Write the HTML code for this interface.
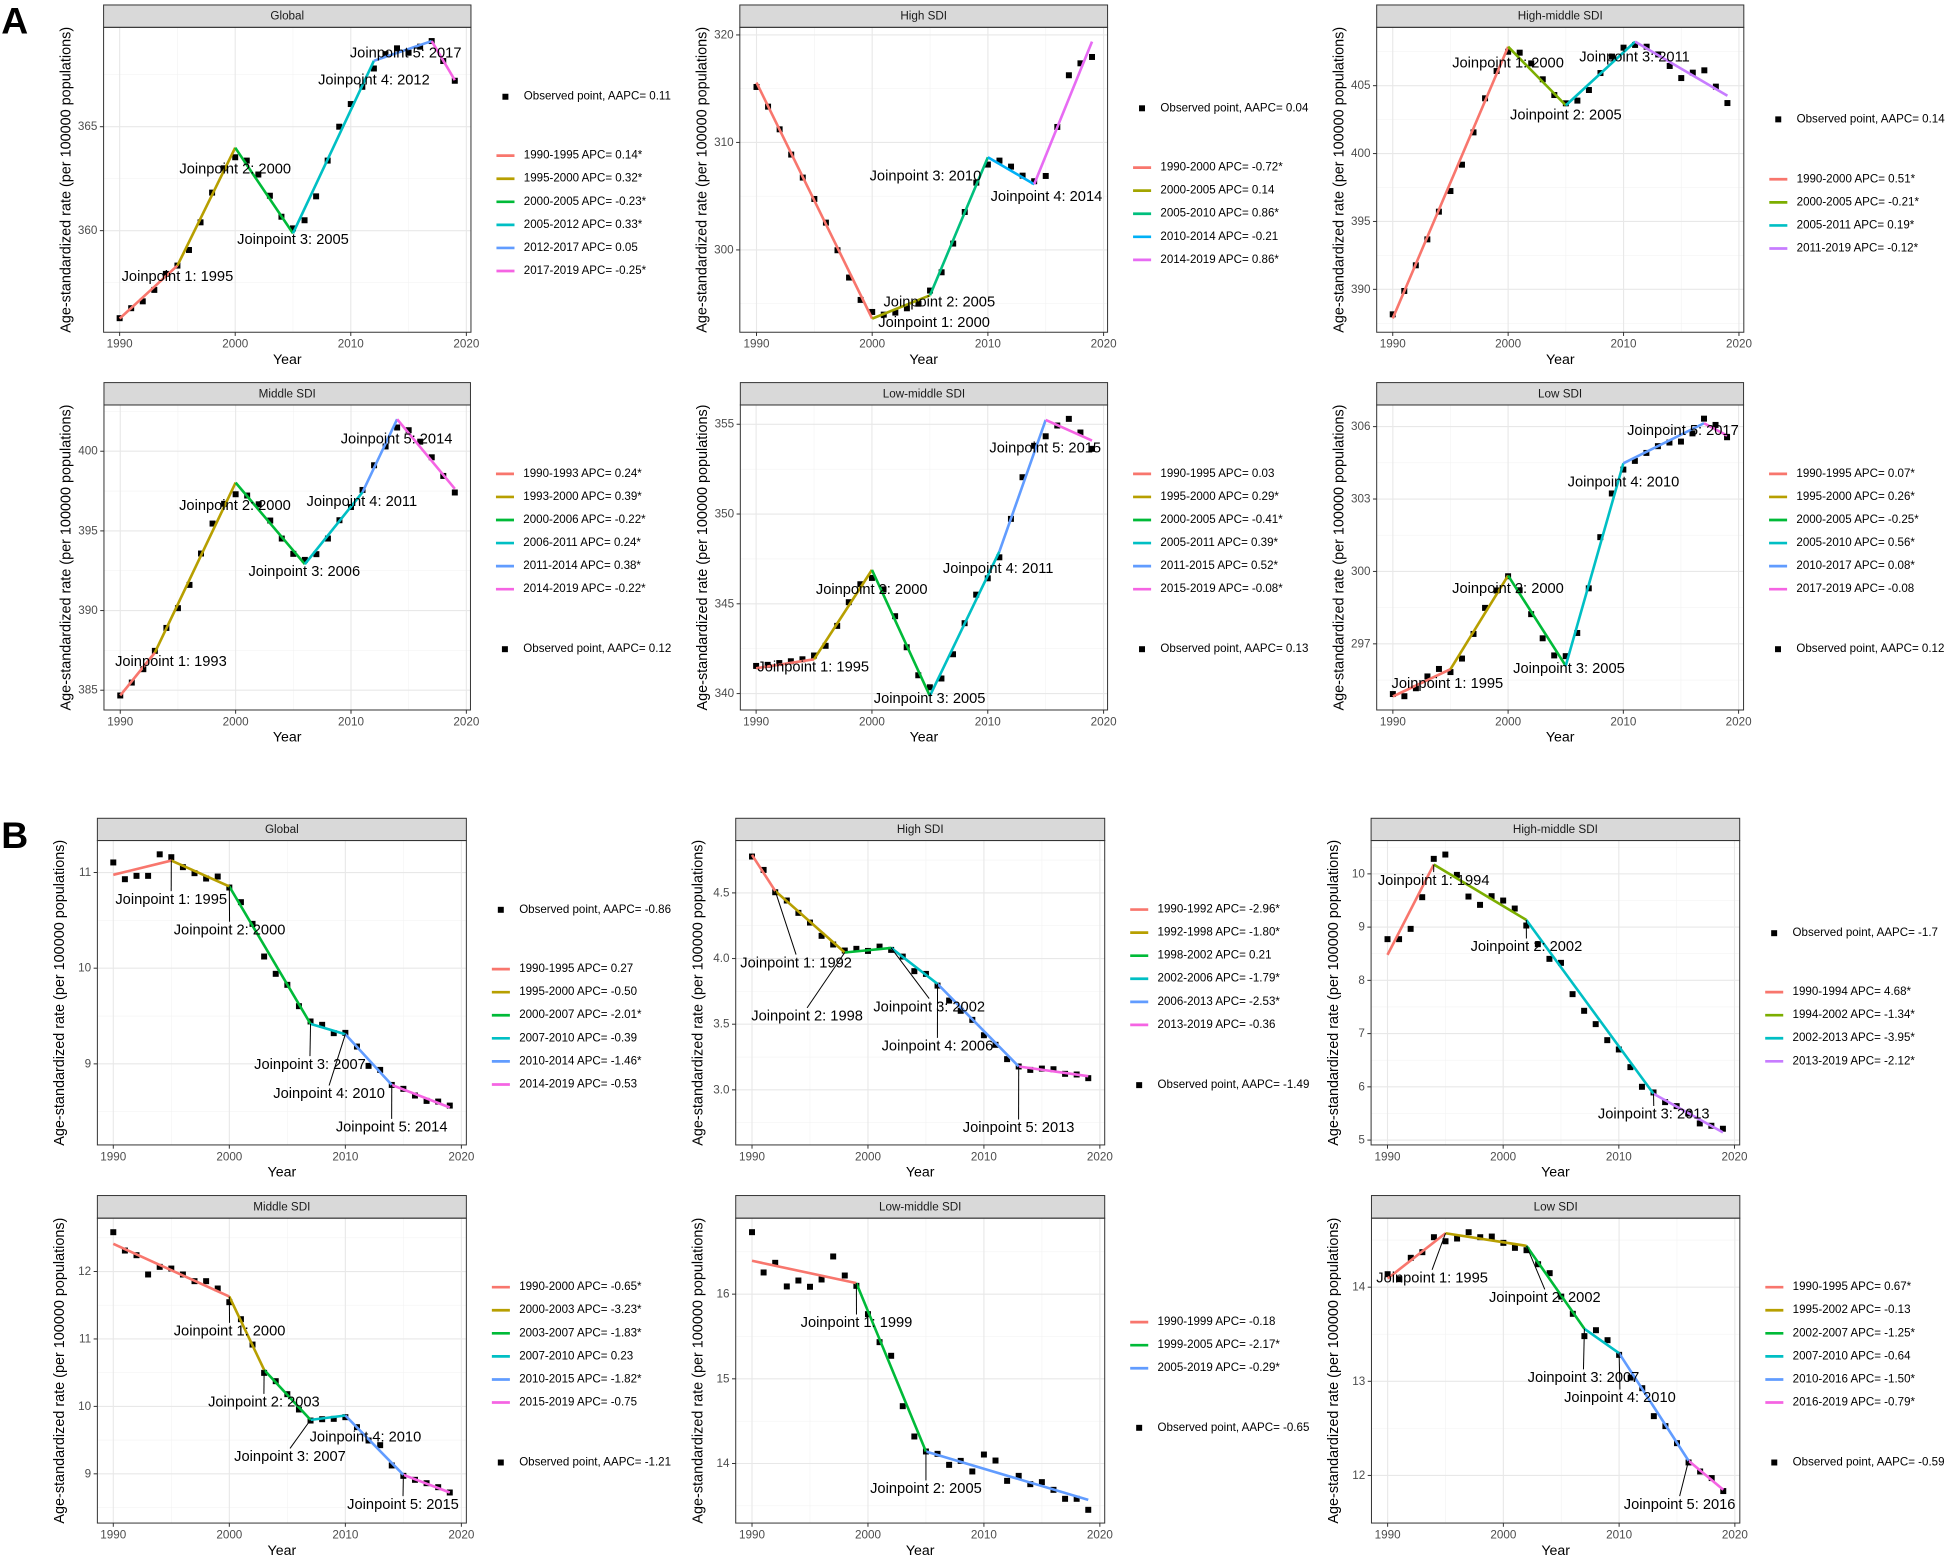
<!DOCTYPE html>
<html><head><meta charset="utf-8"><title>Joinpoint regression panels</title>
<style>html,body{margin:0;padding:0;background:#fff}svg{display:block}text{font-family:"Liberation Sans",Arial,sans-serif}</style>
</head><body>
<svg id="fig" xmlns="http://www.w3.org/2000/svg" width="1950" height="1558" viewBox="0 0 1568 1253" preserveAspectRatio="none">
<rect x="0" y="0" width="1568" height="1253" fill="#fff"/>
<text x="1" y="27" font-size="30" font-weight="bold" fill="#000">A</text>
<text x="1" y="682" font-size="30" font-weight="bold" fill="#000">B</text>
</svg>
<script>
const YEARS=[1990,1991,1992,1993,1994,1995,1996,1997,1998,1999,2000,2001,2002,2003,2004,2005,2006,2007,2008,2009,2010,2011,2012,2013,2014,2015,2016,2017,2018,2019];

// ---- A: Global ----
const aGlobalObs=[355.79,356.27,356.6,357.15,357.92,358.32,359.07,360.4,361.83,363.0,363.53,363.37,362.7,361.68,360.67,360.11,360.5,361.65,363.37,365.0,366.09,366.92,367.8,368.49,368.77,368.56,368.85,369.12,368.16,367.21];
const aGlobalJpYears=[1990,1995,2000,2005,2012,2017,2019];
const aGlobalJpFit=[355.77,358.32,363.99,359.87,368.17,369.12,367.24];
const aGlobalSeg=['1990-1995 APC= 0.14*','1995-2000 APC= 0.32*','2000-2005 APC= -0.23*','2005-2012 APC= 0.33*','2012-2017 APC= 0.05','2017-2019 APC= -0.25*'];
const aGlobalTicks=[360,365];
const aGlobalLabX=[1995.0,2000.0,2005.0,2012.0,2014.75];
const aGlobalLabY=[357.76,362.95,359.55,367.21,368.53];

// ---- A: High SDI ----
const aHighObs=[315.16,313.33,311.22,308.87,306.73,304.74,302.54,299.97,297.43,295.35,294.23,293.98,294.17,294.57,295.0,296.22,297.92,300.59,303.53,306.26,307.94,308.31,307.75,306.91,306.39,306.88,311.44,316.25,317.36,317.95];
const aHighJpYears=[1990,2000,2005,2010,2014,2019];
const aHighJpFit=[315.57,293.61,295.78,308.62,306.11,319.38];
const aHighSeg=['1990-2000 APC= -0.72*','2000-2005 APC= 0.14','2005-2010 APC= 0.86*','2010-2014 APC= -0.21','2014-2019 APC= 0.86*'];
const aHighTicks=[300,310,320];
const aHighLabX=[2005.35,2005.8,2004.6,2015.06];
const aHighLabY=[293.18,295.1,306.82,304.9];

// ---- A: High-middle SDI ----
const aHmObs=[388.16,389.88,391.77,393.68,395.72,397.24,399.18,401.56,404.07,406.08,407.5,407.43,406.64,405.47,404.31,403.7,403.9,404.68,405.93,407.14,407.8,408.0,407.87,407.3,406.45,405.56,405.96,406.13,404.93,403.72];
const aHmJpYears=[1990,2000,2005,2011,2019];
const aHmJpFit=[387.86,407.87,403.55,408.24,404.26];
const aHmSeg=['1990-2000 APC= 0.51*','2000-2005 APC= -0.21*','2005-2011 APC= 0.19*','2011-2019 APC= -0.12*'];
const aHmTicks=[390,395,400,405];
const aHmLabX=[1999.99,2005.0,2010.95];
const aHmLabY=[406.64,402.79,407.09];

// ---- A: Middle SDI ----
const aMidObs=[384.67,385.48,386.32,387.47,388.91,390.15,391.61,393.58,395.46,396.7,397.3,397.22,396.67,395.65,394.52,393.56,393.18,393.54,394.52,395.67,396.5,397.57,399.12,400.3,401.49,401.32,400.6,399.62,398.45,397.41];
const aMidJpYears=[1990,1993,2000,2006,2011,2014,2019];
const aMidJpFit=[384.67,387.36,398.03,392.91,397.43,402.01,397.64];
const aMidSeg=['1990-1993 APC= 0.24*','1993-2000 APC= 0.39*','2000-2006 APC= -0.22*','2006-2011 APC= 0.24*','2011-2014 APC= 0.38*','2014-2019 APC= -0.22*'];
const aMidTicks=[385,390,395,400];
const aMidLabX=[1994.39,1999.94,2005.95,2010.94,2013.95];
const aMidLabY=[386.76,396.57,392.43,396.8,400.75];

// ---- A: Low-middle SDI ----
const aLmObs=[341.54,341.6,341.7,341.8,341.91,342.12,342.66,343.77,345.09,346.09,346.44,345.8,344.31,342.58,341.02,340.35,340.84,342.19,343.92,345.51,346.42,347.59,349.73,352.05,353.8,354.33,354.93,355.3,354.54,353.63];
const aLmJpYears=[1990,1995,2000,2005,2011,2015,2019];
const aLmJpFit=[341.41,341.91,346.89,339.87,347.91,355.24,354.09];
const aLmSeg=['1990-1995 APC= 0.03','1995-2000 APC= 0.29*','2000-2005 APC= -0.41*','2005-2011 APC= 0.39*','2011-2015 APC= 0.52*','2015-2019 APC= -0.08*'];
const aLmTicks=[340,345,350,355];
const aLmLabX=[1994.93,1999.98,2004.98,2010.9,2014.96];
const aLmLabY=[341.45,345.77,339.69,346.93,353.64];

// ---- A: Low SDI ----
const aLowObs=[294.92,294.83,295.16,295.65,295.96,295.83,296.39,297.41,298.49,299.21,299.8,299.22,298.23,297.23,296.52,296.49,297.45,299.3,301.42,303.23,304.22,304.58,304.91,305.19,305.34,305.38,305.72,306.33,306.07,305.56];
const aLowJpYears=[1990,1995,2000,2005,2010,2017,2019];
const aLowJpFit=[294.82,295.95,299.83,296.09,304.48,306.14,305.63];
const aLowSeg=['1990-1995 APC= 0.07*','1995-2000 APC= 0.26*','2000-2005 APC= -0.25*','2005-2010 APC= 0.56*','2010-2017 APC= 0.08*','2017-2019 APC= -0.08'];
const aLowTicks=[297,300,303,306];
const aLowLabX=[1994.73,1999.99,2005.28,2010.01,2015.17];
const aLowLabY=[295.33,299.28,295.96,303.69,305.81];

// ---- B: Global ----
const bGlobalObs=[11.105,10.93,10.965,10.965,11.19,11.16,11.056,10.993,10.937,10.958,10.843,10.69,10.463,10.122,9.941,9.826,9.603,9.443,9.408,9.321,9.324,9.181,8.979,8.937,8.78,8.739,8.669,8.613,8.606,8.564];
const bGlobalJpYears=[1990,1995,2000,2007,2010,2014,2019];
const bGlobalJpFit=[10.976,11.125,10.854,9.418,9.31,8.78,8.544];
const bGlobalSeg=['1990-1995 APC= 0.27','1995-2000 APC= -0.50','2000-2007 APC= -2.01*','2007-2010 APC= -0.39','2010-2014 APC= -1.46*','2014-2019 APC= -0.53'];
const bGlobalTicks=[9,10,11];
const bGlobalLabX=[1994.99,2000.02,2006.95,2008.6,2013.99];
const bGlobalLabY=[10.714,10.394,8.99,8.683,8.334];

// ---- B: High SDI ----
const bHighObs=[4.777,4.675,4.505,4.442,4.348,4.274,4.173,4.107,4.061,4.074,4.058,4.091,4.066,4.015,3.904,3.883,3.794,3.68,3.602,3.533,3.416,3.343,3.234,3.178,3.152,3.162,3.157,3.122,3.117,3.089];
const bHighJpYears=[1990,1992,1998,2002,2006,2013,2019];
const bHighJpFit=[4.789,4.515,4.046,4.081,3.807,3.178,3.104];
const bHighSeg=['1990-1992 APC= -2.96*','1992-1998 APC= -1.80*','1998-2002 APC= 0.21','2002-2006 APC= -1.79*','2006-2013 APC= -2.53*','2013-2019 APC= -0.36'];
const bHighTicks=[3.0,3.5,4.0,4.5];
const bHighLabX=[1993.8,1994.75,2005.28,2005.99,2012.99];
const bHighLabY=[3.964,3.558,3.629,3.33,2.708];

// ---- B: High-middle SDI ----
const bHmObs=[8.774,8.774,8.967,9.562,10.282,10.363,9.981,9.574,9.418,9.581,9.499,9.349,9.03,8.68,8.404,8.329,7.741,7.428,7.178,6.877,6.702,6.37,6.001,5.895,5.713,5.638,5.5,5.313,5.269,5.213];
const bHmJpYears=[1990,1994,2002,2013,2019];
const bHmJpFit=[8.479,10.175,9.136,5.87,5.144];
const bHmSeg=['1990-1994 APC= 4.68*','1994-2002 APC= -1.34*','2002-2013 APC= -3.95*','2013-2019 APC= -2.12*'];
const bHmTicks=[5,6,7,8,9,10];
const bHmLabX=[1993.99,2002.01,2013.02];
const bHmLabY=[9.869,8.623,5.476];

// ---- B: Middle SDI ----
const bMidObs=[12.583,12.311,12.242,11.956,12.069,12.044,11.956,11.857,11.857,11.748,11.545,11.293,10.917,10.497,10.374,10.181,9.954,9.79,9.81,9.815,9.84,9.692,9.494,9.425,9.124,8.97,8.911,8.861,8.802,8.723];
const bMidJpYears=[1990,2000,2003,2007,2010,2015,2019];
const bMidJpFit=[12.41,11.629,10.542,9.8,9.865,8.985,8.723];
const bMidSeg=['1990-2000 APC= -0.65*','2000-2003 APC= -3.23*','2003-2007 APC= -1.83*','2007-2010 APC= 0.23','2010-2015 APC= -1.82*','2015-2019 APC= -0.75'];
const bMidTicks=[9,10,11,12];
const bMidLabX=[2000.02,2002.98,2005.23,2011.73,2014.97];
const bMidLabY=[11.11,10.057,9.247,9.538,8.54];

// ---- B: Low-middle SDI ----
const bLmObs=[16.732,16.256,16.37,16.091,16.161,16.087,16.173,16.445,16.22,16.098,15.764,15.433,15.272,14.677,14.319,14.142,14.114,13.984,14.031,13.906,14.106,14.035,13.795,13.854,13.756,13.78,13.689,13.583,13.583,13.453];
const bLmJpYears=[1990,1999,2005,2019];
const bLmJpFit=[16.394,16.13,14.142,13.571];
const bLmSeg=['1990-1999 APC= -0.18','1999-2005 APC= -2.17*','2005-2019 APC= -0.29*'];
const bLmTicks=[14,15,16];
const bLmLabX=[1999.01,2005.0];
const bLmLabY=[15.657,13.697];

// ---- B: Low SDI ----
const bLowObs=[14.138,14.085,14.312,14.372,14.531,14.488,14.517,14.584,14.531,14.538,14.471,14.418,14.393,14.244,14.149,13.9,13.717,13.48,13.543,13.437,13.281,13.04,12.927,12.63,12.524,12.343,12.138,12.042,11.972,11.834];
const bLowJpYears=[1990,1995,2002,2007,2010,2016,2019];
const bLowJpFit=[14.092,14.573,14.439,13.558,13.299,12.156,11.848];
const bLowSeg=['1990-1995 APC= 0.67*','1995-2002 APC= -0.13','2002-2007 APC= -1.25*','2007-2010 APC= -0.64','2010-2016 APC= -1.50*','2016-2019 APC= -0.79*'];
const bLowTicks=[12,13,14];
const bLowLabX=[1993.84,2003.58,2006.92,2010.07,2015.23];
const bLowLabY=[14.092,13.883,13.034,12.821,11.688];

const PAL={6:['#F8766D','#B79F00','#00BA38','#00BFC4','#619CFF','#F564E3'],5:['#F8766D','#A3A500','#00BF7D','#00B0F6','#E76BF3'],4:['#F8766D','#7CAE00','#00BFC4','#C77CFF'],3:['#F8766D','#00BA38','#619CFF']};
const NS='http://www.w3.org/2000/svg';
const svg=document.getElementById('fig');

function mk(tag,attrs,parent){const e=document.createElementNS(NS,tag);for(const k in attrs)e.setAttribute(k,attrs[k]);parent.appendChild(e);return e;}

const panels=[
 {id:'a-global',title:'Global',obs:aGlobalObs,jy:aGlobalJpYears,jf:aGlobalJpFit,seg:aGlobalSeg,aapc:'0.11',ticks:aGlobalTicks,dec:0,lx:aGlobalLabX,ly:aGlobalLabY,leaders:null,
  L:83.3,R:378.7,x0:96.2,x1:375,T:4,S:22,B:267.2,yref:[365,101.9,360,185.5],obsY:77.8,segY:125.2},
 {id:'a-high',title:'High SDI',obs:aHighObs,jy:aHighJpYears,jf:aHighJpFit,seg:aHighSeg,aapc:'0.04',ticks:aHighTicks,dec:0,lx:aHighLabX,ly:aHighLabY,leaders:null,
  L:594.9,R:890.6,x0:608.3,x1:887.4,T:4,S:22,B:267.2,yref:[320,28.1,300,201.0],obsY:87.1,segY:134.8},
 {id:'a-high-middle',title:'High-middle SDI',obs:aHmObs,jy:aHmJpYears,jf:aHmJpFit,seg:aHmSeg,aapc:'0.14',ticks:aHmTicks,dec:0,lx:aHmLabX,ly:aHmLabY,leaders:null,
  L:1107,R:1402.2,x0:1119.9,x1:1398.3,T:4,S:22,B:267.2,yref:[405,68.9,390,232.7],obsY:96,segY:144.2},
 {id:'a-middle',title:'Middle SDI',obs:aMidObs,jy:aMidJpYears,jf:aMidJpFit,seg:aMidSeg,aapc:'0.12',ticks:aMidTicks,dec:0,lx:aMidLabX,ly:aMidLabY,leaders:null,
  L:83.6,R:378.3,x0:96.7,x1:375,T:307.7,S:325.7,B:571,yref:[400,362.9,385,555.1],obsY:522.1,segY:381.1},
 {id:'a-low-middle',title:'Low-middle SDI',obs:aLmObs,jy:aLmJpYears,jf:aLmJpFit,seg:aLmSeg,aapc:'0.13',ticks:aLmTicks,dec:0,lx:aLmLabX,ly:aLmLabY,leaders:null,
  L:595.3,R:890.6,x0:608,x1:887.4,T:307.7,S:325.7,B:571,yref:[355,341.2,340,557.8],obsY:522.1,segY:381.1},
 {id:'a-low',title:'Low SDI',obs:aLowObs,jy:aLowJpYears,jf:aLowJpFit,seg:aLowSeg,aapc:'0.12',ticks:aLowTicks,dec:0,lx:aLowLabX,ly:aLowLabY,leaders:null,
  L:1107,R:1402,x0:1120,x1:1398,T:307.7,S:325.7,B:571,yref:[306,343.1,297,517.8],obsY:522.1,segY:381.1},
 {id:'b-global',title:'Global',obs:bGlobalObs,jy:bGlobalJpYears,jf:bGlobalJpFit,seg:bGlobalSeg,aapc:'-0.86',ticks:bGlobalTicks,dec:0,lx:bGlobalLabX,ly:bGlobalLabY,leaders:[1,1,1,1,1],
  L:78.3,R:375,x0:91.1,x1:371,T:658.1,S:676,B:920.8,yref:[11,701.7,9,855.6],obsY:731.7,segY:779.4},
 {id:'b-high',title:'High SDI',obs:bHighObs,jy:bHighJpYears,jf:bHighJpFit,seg:bHighSeg,aapc:'-1.49',ticks:bHighTicks,dec:1,lx:bHighLabX,ly:bHighLabY,leaders:[1,1,1,1,1],
  L:591.6,R:888.3,x0:604.7,x1:884.4,T:658.1,S:676,B:920.8,yref:[4.5,718.1,3.0,876.5],obsY:872.7,segY:731.5},
 {id:'b-high-middle',title:'High-middle SDI',obs:bHmObs,jy:bHmJpYears,jf:bHmJpFit,seg:bHmSeg,aapc:'-1.7',ticks:bHmTicks,dec:0,lx:bHmLabX,ly:bHmLabY,leaders:[1,1,1],
  L:1102.5,R:1398.9,x0:1115.7,x1:1394.7,T:658.1,S:676,B:920.8,yref:[10,702.8,5,916.9],obsY:750.5,segY:797.9},
 {id:'b-middle',title:'Middle SDI',obs:bMidObs,jy:bMidJpYears,jf:bMidJpFit,seg:bMidSeg,aapc:'-1.21',ticks:bMidTicks,dec:0,lx:bMidLabX,ly:bMidLabY,leaders:[1,1,1,0,1],
  L:78.3,R:375,x0:91.1,x1:371,T:961.5,S:979.7,B:1224.9,yref:[12,1022.6,9,1185.3],obsY:1176.2,segY:1035.2},
 {id:'b-low-middle',title:'Low-middle SDI',obs:bLmObs,jy:bLmJpYears,jf:bLmJpFit,seg:bLmSeg,aapc:'-0.65',ticks:bLmTicks,dec:0,lx:bLmLabX,ly:bLmLabY,leaders:[1,1],
  L:591.6,R:888.3,x0:604.7,x1:884.4,T:961.5,S:979.7,B:1224.9,yref:[16,1040.8,14,1177.0],obsY:1148.3,segY:1063.3},
 {id:'b-low',title:'Low SDI',obs:bLowObs,jy:bLowJpYears,jf:bLowJpFit,seg:bLowSeg,aapc:'-0.59',ticks:bLowTicks,dec:0,lx:bLowLabX,ly:bLowLabY,leaders:[1,1,1,1,1],
  L:1102.8,R:1399,x0:1115.8,x1:1395,T:961.5,S:979.7,B:1224.9,yref:[14,1035.2,12,1186.6],obsY:1176.2,segY:1035.2}
];

function drawPanel(p){
  const g=mk('g',{},svg);
  
  
  const xs=v=>p.x0+(v-1990)*(p.x1-p.x0)/30;
  const k=(p.yref[3]-p.yref[1])/(p.yref[2]-p.yref[0]);
  const ys=v=>p.yref[1]+(v-p.yref[0])*k;
  const yInv=px=>p.yref[0]+(px-p.yref[1])/k;
  // background
  const bg=mk('rect',{x:p.L,y:p.S,width:p.R-p.L,height:p.B-p.S,fill:'#fff'},g);
  
  
  // grid
  const step=p.ticks[1]-p.ticks[0];
  const vTop=yInv(p.S), vBot=yInv(p.B);
  const lo=Math.min(vTop,vBot), hi=Math.max(vTop,vBot);
  for(let m=p.ticks[0]-step*1.5;m<=hi;m+=step){
    if(m<lo)continue;
    const ln=mk('line',{x1:p.L,x2:p.R,y1:ys(m),y2:ys(m),stroke:'#f3f3f3','stroke-width':0.5},g);
    
    
  }
  for(const yr of [1995,2005,2015]){
    const ln=mk('line',{x1:xs(yr),x2:xs(yr),y1:p.S,y2:p.B,stroke:'#f3f3f3','stroke-width':0.5},g);
    
    
  }
  p.ticks.forEach(t=>{
    const ln=mk('line',{x1:p.L,x2:p.R,y1:ys(t),y2:ys(t),stroke:'#e8e8e8','stroke-width':0.9},g);
    
    
    const tk=mk('line',{x1:p.L-3,x2:p.L,y1:ys(t),y2:ys(t),stroke:'#333','stroke-width':0.8},g);
    
    
    const tl=mk('text',{x:p.L-5,y:ys(t),'font-size':9.4,fill:'#4d4d4d','text-anchor':'end','dominant-baseline':'central'},g);
    tl.textContent=p.dec?t.toFixed(p.dec):String(t);
    
    
  });
  for(const yr of [1990,2000,2010,2020]){
    const ln=mk('line',{x1:xs(yr),x2:xs(yr),y1:p.S,y2:p.B,stroke:'#e8e8e8','stroke-width':0.9},g);
    
    
    const tk=mk('line',{x1:xs(yr),x2:xs(yr),y1:p.B,y2:p.B+3,stroke:'#333','stroke-width':0.8},g);
    
    
    const tl=mk('text',{x:xs(yr),y:p.B+9.6,'font-size':9.4,fill:'#4d4d4d','text-anchor':'middle','dominant-baseline':'central'},g);
    tl.textContent=String(yr);
    
    
  }
  // strip
  const st=mk('rect',{x:p.L,y:p.T,width:p.R-p.L,height:p.S-p.T,fill:'#d9d9d9',stroke:'#333','stroke-width':0.8},g);
  
  
  const stt=mk('text',{x:(p.L+p.R)/2,y:(p.T+p.S)/2,'font-size':9.4,fill:'#1a1a1a','text-anchor':'middle','dominant-baseline':'central'},g);
  stt.textContent=p.title;
  
  
  // axis titles
  const xt=mk('text',{x:(p.L+p.R)/2,y:p.B+22.3,'font-size':11.4,fill:'#000','text-anchor':'middle','dominant-baseline':'central'},g);
  xt.textContent='Year';
  
  
  const cy=(p.S+p.B)/2, cx=p.L-30;
  const yt=mk('text',{x:cx,y:cy,'font-size':11.6,fill:'#000','text-anchor':'middle','dominant-baseline':'central',transform:'rotate(-90 '+cx+' '+cy+')'},g);
  yt.textContent='Age-standardized rate (per 100000 populations)';
  
  
  // points
  const pal=PAL[p.seg.length];
  p.obs.forEach((v,i)=>{
    const r=mk('rect',{x:xs(YEARS[i])-2.4,y:ys(v)-2.4,width:4.8,height:4.8,fill:'#000'},g);
    
    
  });
  // segments
  for(let i=0;i<p.jy.length-1;i++){
    const ln=mk('line',{x1:xs(p.jy[i]),y1:ys(p.jf[i]),x2:xs(p.jy[i+1]),y2:ys(p.jf[i+1]),stroke:pal[i],'stroke-width':2.1,'stroke-linecap':'butt'},g);
    
    
  }
  // joinpoint labels
  for(let j=0;j<p.lx.length;j++){
    const jy=p.jy[j+1];
    const tx=xs(p.lx[j]), ty=ys(p.ly[j]);
    if(p.leaders && p.leaders[j]){
      const nx=xs(jy), ny=ys(p.jf[j+1]);
      const sgn=ty>ny?1:-1;
      const ld=mk('line',{x1:nx,y1:ny,x2:tx,y2:ty-7*sgn,stroke:'#000','stroke-width':0.8},g);
      
      
    }
    const t=mk('text',{x:tx,y:ty,'font-size':11.8,fill:'#000','text-anchor':'middle','dominant-baseline':'central'},g);
    t.textContent='Joinpoint '+(j+1)+': '+jy;
    
    
  }
  // border
  const bd=mk('rect',{x:p.L,y:p.S,width:p.R-p.L,height:p.B-p.S,fill:'none',stroke:'#333','stroke-width':0.8},g);
  
  
  // legend
  const ob=mk('rect',{x:p.R+25.3,y:p.obsY-2.4,width:4.8,height:4.8,fill:'#000'},g);
  
  
  const ot=mk('text',{x:p.R+42.5,y:p.obsY,'font-size':9.3,fill:'#000','dominant-baseline':'central'},g);
  ot.textContent='Observed point, AAPC= '+p.aapc;
  
  
  p.seg.forEach((s,i)=>{
    const yy=p.segY+i*18.55;
    const kl=mk('line',{x1:p.R+20.5,x2:p.R+35,y1:yy,y2:yy,stroke:pal[i],'stroke-width':2.2},g);
    
    
    const lt=mk('text',{x:p.R+42.5,y:yy,'font-size':9.3,fill:'#000','dominant-baseline':'central'},g);
    lt.textContent=s;
    
    
  });
}
panels.forEach(drawPanel);
</script>
</body></html>
